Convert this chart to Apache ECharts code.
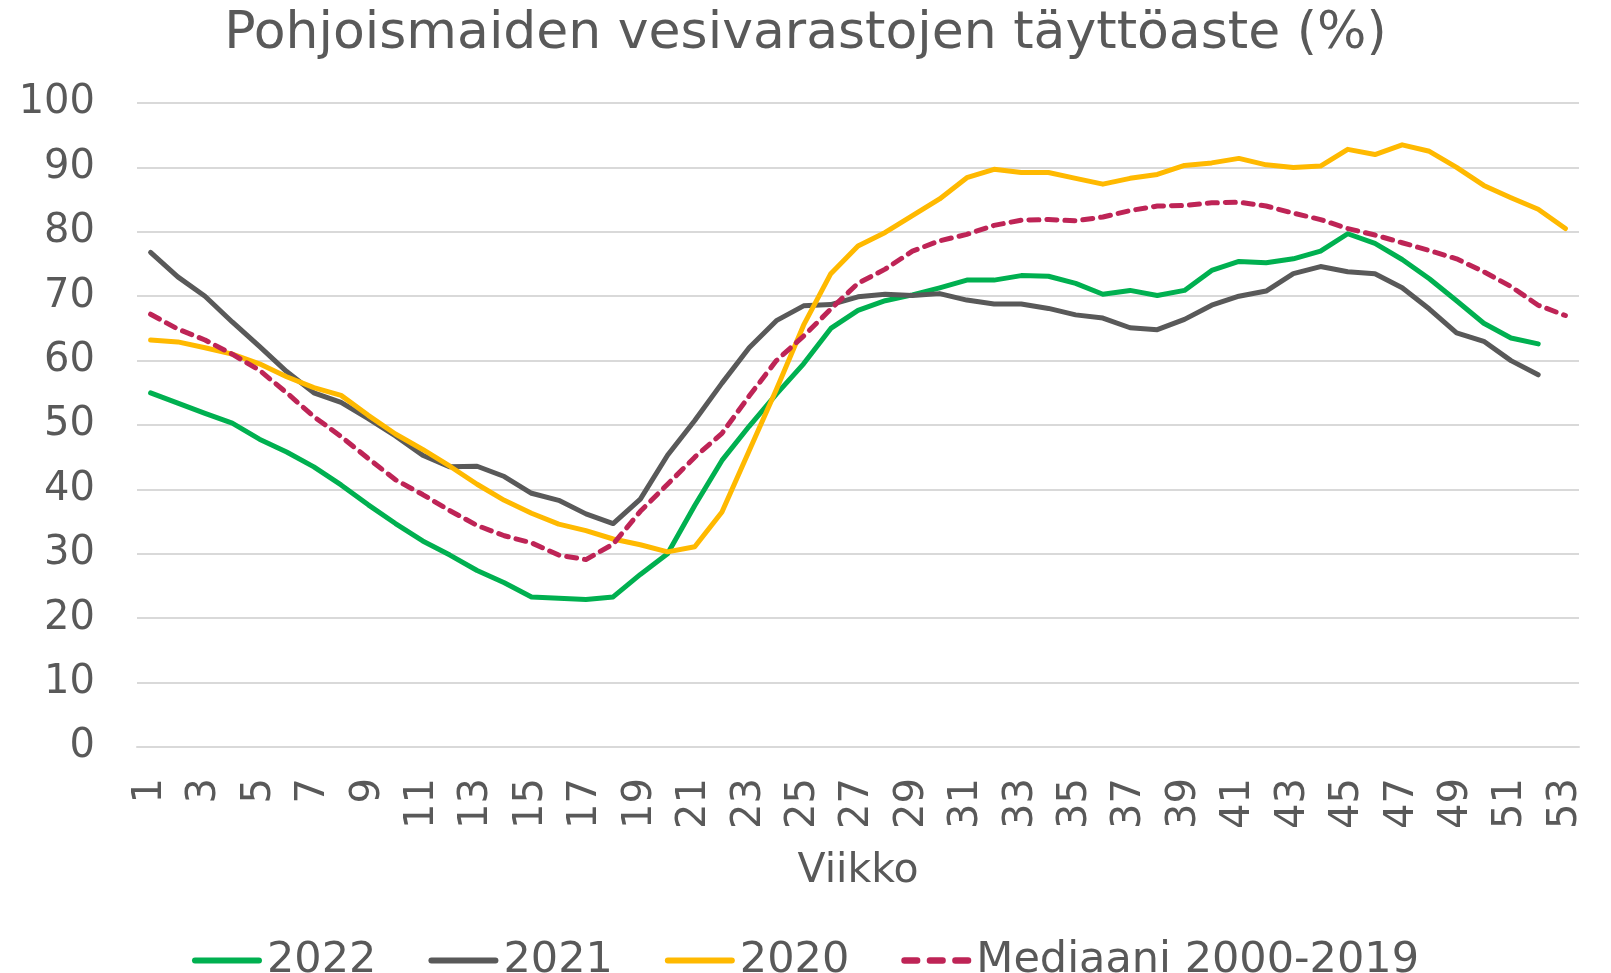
<!DOCTYPE html>
<html><head><meta charset="utf-8">
<script src="https://cdn.jsdelivr.net/npm/echarts@6/dist/echarts.min.js"></script>
<style>html,body{margin:0;padding:0;background:#fff}#c{width:1611px;height:973px}</style>
</head><body><div id="c"></div>
<script>
const weeks = Array.from({length:53},(_,i)=>String(i+1));
const y2022 = [55.0,53.4,51.8,50.3,47.8,45.8,43.5,40.7,37.6,34.7,32.0,29.8,27.4,25.5,23.3,23.1,22.9,23.3,26.8,30.0,37.5,44.5,49.8,54.8,59.5,65.0,67.8,69.3,70.2,71.3,72.5,72.5,73.2,73.1,72.0,70.3,70.9,70.1,70.9,74.0,75.4,75.2,75.8,77.0,79.7,78.2,75.7,72.7,69.3,65.8,63.5,62.6];
const y2021 = [76.8,73.0,70.0,66.0,62.2,58.3,55.0,53.5,51.0,48.3,45.3,43.5,43.6,42.0,39.4,38.3,36.2,34.7,38.5,45.3,50.7,56.5,62.0,66.2,68.5,68.7,69.9,70.3,70.1,70.4,69.4,68.8,68.8,68.1,67.1,66.6,65.1,64.8,66.4,68.6,70.0,70.8,73.5,74.6,73.8,73.5,71.3,68.0,64.3,63.0,60.0,57.8];
const y2020 = [63.2,62.9,62.0,61.0,59.5,57.5,55.8,54.6,51.5,48.6,46.2,43.6,40.8,38.3,36.3,34.6,33.6,32.3,31.4,30.3,31.1,36.5,46.0,55.5,65.5,73.5,77.8,79.9,82.5,85.1,88.4,89.7,89.2,89.2,88.3,87.4,88.3,88.9,90.3,90.7,91.4,90.4,90.0,90.2,92.8,92.0,93.5,92.5,90.0,87.2,85.3,83.5,80.5];
const median = [67.2,64.9,63.2,61.0,58.5,55.0,51.3,48.2,44.8,41.5,39.2,36.7,34.4,32.8,31.7,29.8,29.1,31.5,36.6,40.8,45.0,48.7,54.5,60.0,63.8,68.0,72.0,74.2,77.0,78.6,79.6,81.0,81.8,81.9,81.7,82.3,83.3,84.0,84.1,84.5,84.6,84.0,82.9,81.9,80.5,79.5,78.3,77.1,75.8,73.8,71.5,68.6,67.0];
const seriesNames = ['2022','2021','2020','Mediaani 2000-2019'];
const titleText = 'Pohjoismaiden vesivarastojen täyttöaste (%)';
const xName = 'Viikko';

const FONT = 'DejaVu Sans';
const TXT = '#595959';
const chart = echarts.init(document.getElementById('c'), null, {renderer:'canvas'});
function mk(name, data, color, dashed){
  return {name, type:'line', data, symbol:'none', smooth:false,
    lineStyle:{color, width:5, type: dashed ? [10,8] : 'solid', cap:'round', join:'round'},
    itemStyle:{color}};
}
const solidIcon = 'path://M3,0H67A3,3 0 0 1 67,6H3A3,3 0 0 1 3,0Z';
const dashIcon = 'path://M3,0H15A3,3 0 0 1 15,6H3A3,3 0 0 1 3,0Z M27,0H39A3,3 0 0 1 39,6H27A3,3 0 0 1 27,0Z M51,0H63A3,3 0 0 1 63,6H51A3,3 0 0 1 51,0Z';
chart.setOption({
  animation:false,
  backgroundColor:'#fff',
  title:{text:titleText, left:'center', top:3,
    textStyle:{fontFamily:FONT, fontSize:52, fontWeight:'normal', color:TXT}},
  grid:{left:137, right:32, top:103, bottom:226, containLabel:false},
  legend:{bottom:-14, left:'center', itemWidth:70, itemHeight:7, itemGap:52,
    textStyle:{fontFamily:FONT, fontSize:43, color:TXT},
    data:[
      {name:seriesNames[0], icon:solidIcon},
      {name:seriesNames[1], icon:solidIcon},
      {name:seriesNames[2], icon:solidIcon},
      {name:seriesNames[3], icon:dashIcon}
    ]},
  xAxis:{type:'category', data:weeks, boundaryGap:true,
    name:xName, nameLocation:'middle', nameGap:104,
    nameTextStyle:{fontFamily:FONT, fontSize:41, color:TXT},
    axisLine:{show:true, lineStyle:{color:'#d9d9d9', width:2}},
    axisTick:{show:false},
    axisLabel:{interval:1, rotate:90, margin:31, fontFamily:FONT, fontSize:40, color:TXT}},
  yAxis:{type:'value', min:0, max:100, interval:10,
    axisLine:{show:false}, axisTick:{show:false},
    splitLine:{lineStyle:{color:'#d9d9d9', width:2}},
    axisLabel:{margin:42, fontFamily:FONT, fontSize:40, color:TXT}},
  series:[
    mk(seriesNames[0], y2022, '#00b050', false),
    mk(seriesNames[1], y2021, '#595959', false),
    mk(seriesNames[2], y2020, '#ffb900', false),
    mk(seriesNames[3], median, '#be2456', true)
  ]
});
</script></body></html>
